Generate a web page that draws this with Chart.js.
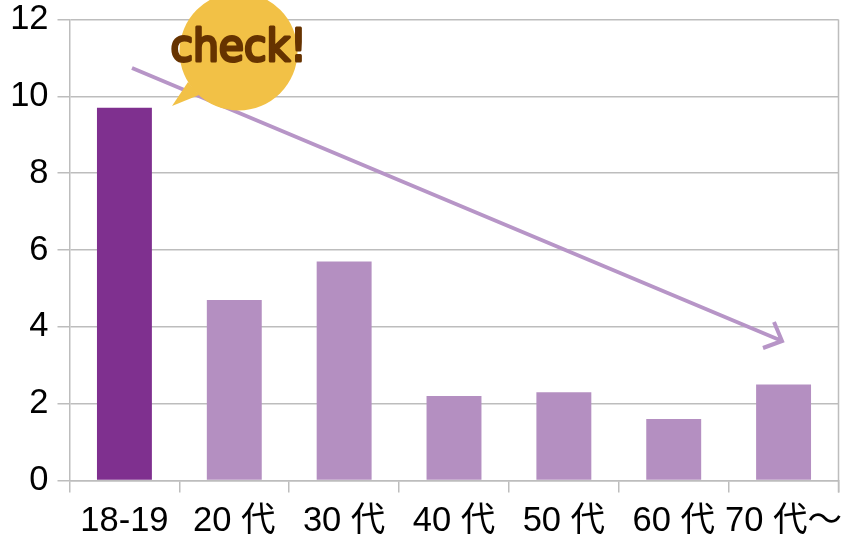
<!DOCTYPE html>
<html>
<head>
<meta charset="utf-8">
<script src="https://cdn.jsdelivr.net/npm/chart.js@4"></script>
<style>
html, body { margin: 0; padding: 0; background: #fff; }
canvas { display: block; }
</style>
</head>
<body>
<canvas id="chart" width="841" height="536"></canvas>
<script>
const categories = ['18-19', '20 代', '30 代', '40 代', '50 代', '60 代', '70 代～'];
const values = [9.7, 4.7, 5.7, 2.2, 2.3, 1.6, 2.5];
const barColors = ['#7F308F', '#B48FC1', '#B48FC1', '#B48FC1', '#B48FC1', '#B48FC1', '#B48FC1'];

const gridColor = '#BDBDBD';
const tickFont = { family: '"Liberation Sans", "Noto Sans CJK JP"', size: 34.5 };

// right edge line, arrow and speech bubble sit on top of the chart
const overlay = {
    id: 'overlay',
    afterDraw(chart) {
        const ctx = chart.ctx;
        const area = chart.chartArea;
        ctx.save();

        ctx.strokeStyle = gridColor;
        ctx.lineWidth = 1.5;
        ctx.beginPath();
        ctx.moveTo(area.right, area.top);
        ctx.lineTo(area.right, area.bottom + 12);
        ctx.stroke();

        ctx.strokeStyle = '#B795C7';
        ctx.lineWidth = 4;
        ctx.beginPath();
        ctx.moveTo(132, 68);
        ctx.lineTo(782, 341);
        ctx.moveTo(774, 322);
        ctx.lineTo(782, 341);
        ctx.lineTo(763, 348);
        ctx.stroke();

        ctx.fillStyle = '#F2C146';
        ctx.beginPath();
        ctx.arc(238.5, 51.5, 59, 0, Math.PI * 2);
        ctx.fill();
        ctx.beginPath();
        ctx.moveTo(188, 82);
        ctx.lineTo(172, 106);
        ctx.lineTo(199, 95);
        ctx.closePath();
        ctx.fill();

        ctx.font = '44px "DejaVu Sans"';
        ctx.fillStyle = '#663300';
        ctx.strokeStyle = '#663300';
        ctx.lineWidth = 3;
        ctx.lineJoin = 'round';
        ctx.textAlign = 'center';
        ctx.textBaseline = 'alphabetic';
        ctx.save();
        ctx.translate(238.5, 61);
        ctx.scale(0.93, 1);
        ctx.fillText('check!', 0, 0);
        ctx.strokeText('check!', 0, 0);
        ctx.restore();

        ctx.restore();
    }
};

new Chart(document.getElementById('chart'), {
    type: 'bar',
    data: {
        labels: categories,
        datasets: [{
            data: values,
            backgroundColor: barColors,
            barPercentage: 0.5,
            categoryPercentage: 1
        }]
    },
    options: {
        responsive: false,
        animation: false,
        layout: { padding: { top: 19.5, right: 2.5, left: 0, bottom: 0 } },
        plugins: { legend: { display: false }, tooltip: { enabled: false } },
        scales: {
            x: {
                afterFit(scale) {
                    scale.height = 55.5;
                    scale.paddingLeft = 0;
                    scale.paddingRight = 0;
                },
                grid: { color: gridColor, lineWidth: 1.5, tickLength: 12, offset: true, drawOnChartArea: false },
                border: { color: gridColor, width: 1.5 },
                ticks: { color: '#000', font: tickFont, autoSkip: false, maxRotation: 0, padding: 8 }
            },
            y: {
                min: 0,
                max: 12,
                afterFit(scale) {
                    scale.width = 69.5;
                    scale.paddingTop = 0;
                    scale.paddingBottom = 0;
                },
                grid: { color: gridColor, lineWidth: 1.5, tickLength: 12 },
                border: { color: gridColor, width: 1.5 },
                ticks: { color: '#000', font: tickFont, stepSize: 2, padding: 9 }
            }
        }
    },
    plugins: [overlay]
});
</script>
</body>
</html>
